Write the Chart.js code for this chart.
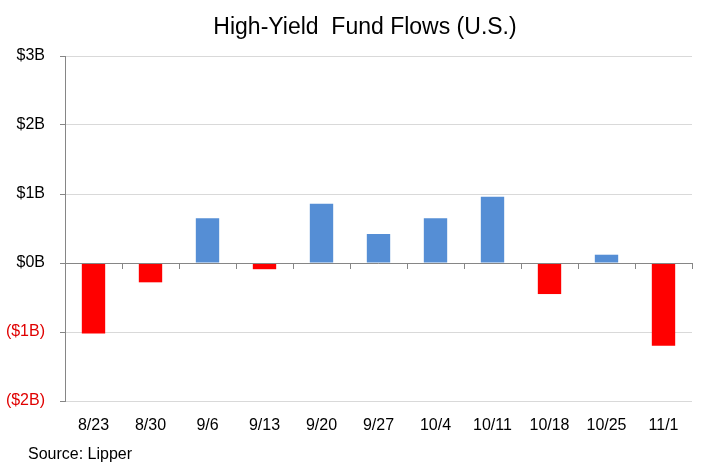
<!DOCTYPE html>
<html>
<head>
<meta charset="utf-8">
<script src="https://cdn.jsdelivr.net/npm/chart.js@4"></script>
<style>
  html, body { margin: 0; padding: 0; background: #fff; }
  #wrap { width: 709px; height: 474px; }
</style>
</head>
<body>
<div id="wrap"><canvas id="myChart"></canvas></div>
<script>
'use strict';

var weeks = ['8/23', '8/30', '9/6', '9/13', '9/20', '9/27', '10/4', '10/11', '10/18', '10/25', '11/1'];
var flows = [-1.02, -0.28, 0.65, -0.09, 0.86, 0.42, 0.65, 0.96, -0.45, 0.12, -1.2];
var yTicks = [3, 2, 1, 0, -1, -2];

var FONT = '"Liberation Sans Narrow", "Arial Narrow", "Liberation Sans", Arial, sans-serif';

function barColors() {
  var tempArray = [];
  for (var i in flows) {
    tempArray.push(flows[i] < 0 ? '#ff0000' : '#558ed5');
  }
  return tempArray;
}

function moneyLabel(v) {
  if (v < 0) {
    return '($' + Math.abs(v) + 'B)';
  }
  return '$' + v + 'B';
}

// title and source drawn as text on the canvas
var textPlugin = {
  id: 'extraText',
  afterDraw: function(chart) {
    var ctx = chart.ctx;
    ctx.save();
    ctx.fillStyle = '#000';
    ctx.textBaseline = 'middle';
    ctx.font = '23px ' + FONT;
    ctx.textAlign = 'center';
    ctx.fillText('High-Yield  Fund Flows (U.S.)', 365, 28);
    ctx.font = '16px ' + FONT;
    ctx.textAlign = 'left';
    ctx.fillText('Source: Lipper', 28, 455);
    ctx.restore();
  }
};

var ctx = document.getElementById('myChart').getContext('2d');
var chart = new Chart(ctx, {
  type: 'bar',
  data: {
    labels: weeks,
    datasets: [{
      data: flows,
      backgroundColor: barColors(),
      borderWidth: 0,
      categoryPercentage: 0.41,
      barPercentage: 1.0
    }]
  },
  options: {
    responsive: true,
    maintainAspectRatio: false,
    animation: false,
    layout: { padding: { top: 56, right: 17, left: 0, bottom: 0 } },
    plugins: {
      legend: { display: false },
      tooltip: { enabled: false }
    },
    scales: {
      x: {
        grid: { display: false, drawTicks: false },
        border: { display: false },
        ticks: {
          color: '#000',
          font: { family: FONT, size: 16 },
          padding: 15,
          maxRotation: 0
        },
        afterFit: function(scale) { scale.height = 73; }
      },
      y: {
        min: -2,
        max: 3,
        afterBuildTicks: function(scale) {
          scale.ticks = yTicks.map(function(v) { return { value: v }; });
        },
        grid: {
          color: '#d9d9d9',
          lineWidth: 1,
          tickColor: '#868686',
          tickLength: 5
        },
        border: { display: true, color: '#868686', width: 1 },
        ticks: {
          font: { family: FONT, size: 16 },
          color: function(c) { return c.tick.value < 0 ? '#e00000' : '#000'; },
          padding: 15,
          callback: function(v) { return moneyLabel(v); }
        },
        afterFit: function(scale) { scale.width = 65; }
      }
    }
  },
  plugins: [textPlugin, {
    id: 'zeroAxis',
    // category axis line at zero with tick marks between categories
    afterDatasetsDraw: function(chart) {
      var c = chart.ctx;
      var y0 = chart.scales.y.getPixelForValue(0);
      var area = chart.chartArea;
      c.save();
      c.strokeStyle = '#868686';
      c.lineWidth = 1;
      c.beginPath();
      c.moveTo(area.left, y0 + 0.5);
      c.lineTo(area.right, y0 + 0.5);
      var step = (area.right - area.left) / weeks.length;
      for (var i = 1; i <= weeks.length; i++) {
        var px = Math.round(area.left + step * i) + 0.5;
        c.moveTo(px, y0);
        c.lineTo(px, y0 + 6);
      }
      c.stroke();
      c.restore();
    }
  }]
});
</script>
</body>
</html>
